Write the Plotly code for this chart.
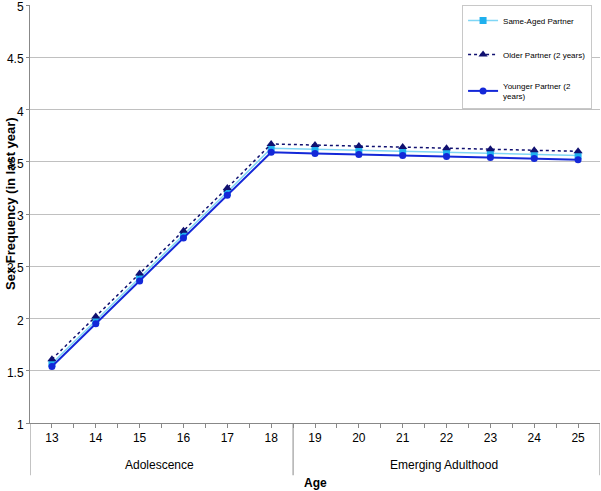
import plotly.graph_objects as go

ages = [13, 14, 15, 16, 17, 18, 19, 20, 21, 22, 23, 24, 25]
same_aged = [1.57, 1.98, 2.39, 2.80, 3.21, 3.63, 3.62, 3.61, 3.60, 3.59, 3.58, 3.57, 3.56]
older = [1.61, 2.02, 2.43, 2.84, 3.25, 3.67, 3.66, 3.65, 3.64, 3.63, 3.62, 3.61, 3.60]
younger = [1.54, 1.95, 2.36, 2.77, 3.18, 3.59, 3.58, 3.57, 3.56, 3.55, 3.54, 3.53, 3.52]
series_names = ["Same-Aged Partner", "Older Partner (2 years)", "Younger Partner (2<br>years)"]
groups = ["Adolescence", "Emerging Adulthood"]
group_bounds = [(12.5, 18.5), (18.5, 25.5)]
y_ticks = [1, 1.5, 2, 2.5, 3, 3.5, 4, 4.5, 5]

FONT = "Liberation Sans, Arial, sans-serif"

fig = go.Figure()
fig.add_trace(go.Scatter(x=ages, y=same_aged, name=series_names[0], mode="lines+markers",
                         line=dict(color="#7FD6F5", width=1.5),
                         marker=dict(symbol="square", size=7, color="#1FB0EE"),
                         legendgroup="a"))
fig.add_trace(go.Scatter(x=ages, y=older, name=series_names[1], mode="lines+markers",
                         line=dict(color="#101070", width=1.5, dash="dot"),
                         marker=dict(symbol="triangle-up", size=8, color="#101070"),
                         legendgroup="b"))
fig.add_trace(go.Scatter(x=ages, y=younger, name=series_names[2], mode="lines+markers",
                         line=dict(color="#1428D8", width=2),
                         marker=dict(symbol="circle", size=7, color="#1428D8"),
                         legendgroup="c"))

shapes = []
for x0, x1 in group_bounds:
    shapes.append(dict(type="line", xref="x", yref="paper", x0=x0, x1=x0, y0=0, y1=-0.125,
                       line=dict(color="#888888", width=1)))
shapes.append(dict(type="line", xref="x", yref="paper", x0=25.5, x1=25.5, y0=0, y1=-0.125,
                   line=dict(color="#888888", width=1)))

annotations = []
for (x0, x1), g in zip(group_bounds, groups):
    annotations.append(dict(x=(x0 + x1) / 2 - 0.05, y=-0.1005, xref="x", yref="paper", text=g,
                            xanchor="center", yanchor="middle",
                            showarrow=False, font=dict(family=FONT, size=12, color="#000000")))
annotations.append(dict(x=0.5, y=-0.1435, xref="paper", yref="paper", text="<b>Age</b>",
                        xanchor="center", yanchor="middle",
                        showarrow=False, font=dict(family=FONT, size=12, color="#000000")))
annotations.append(dict(x=-0.0333, y=0.524, xref="paper", yref="paper",
                        text="<b>Sex Frequency (in last year)</b>", textangle=-90,
                        xanchor="center", yanchor="middle",
                        showarrow=False, font=dict(family=FONT, size=13, color="#000000")))

fig.update_layout(
    width=601, height=491,
    margin=dict(l=30, r=1, t=5, b=68, autoexpand=False),
    paper_bgcolor="white", plot_bgcolor="white",
    font=dict(family=FONT, size=12, color="#000000"),
    showlegend=True,
    legend=dict(x=0.758, y=1.0, xanchor="left", yanchor="top",
                bgcolor="white", bordercolor="#C8C8C8", borderwidth=1,
                font=dict(family=FONT, size=8, color="#000000"),
                tracegroupgap=15, itemwidth=30),
    shapes=shapes,
    annotations=annotations,
    xaxis=dict(range=[12.5, 25.5], tickmode="array", tickvals=ages,
               ticktext=[str(a) for a in ages], ticks="outside", ticklen=4,
               tickcolor="#888888", showgrid=False, showline=True, linecolor="#888888",
               zeroline=False, automargin=False,
               minor=dict(tickmode="array", tickvals=[a + 0.5 for a in ages[:-1]],
                          ticks="outside", ticklen=4, tickcolor="#888888")),
    yaxis=dict(range=[1, 5], tickmode="array", tickvals=y_ticks,
               ticktext=[f"{v:g}" for v in y_ticks], ticks="outside", ticklen=3,
               tickcolor="#888888", showgrid=True, gridcolor="#C0C0C0", gridwidth=1,
               showline=True, linecolor="#888888", zeroline=False, automargin=False,
               ticklabeloverflow="allow", ticklabelshift=2),
)

fig.write_html("out.html", config={"displayModeBar": False},
               post_script="document.body.style.margin='0';")
